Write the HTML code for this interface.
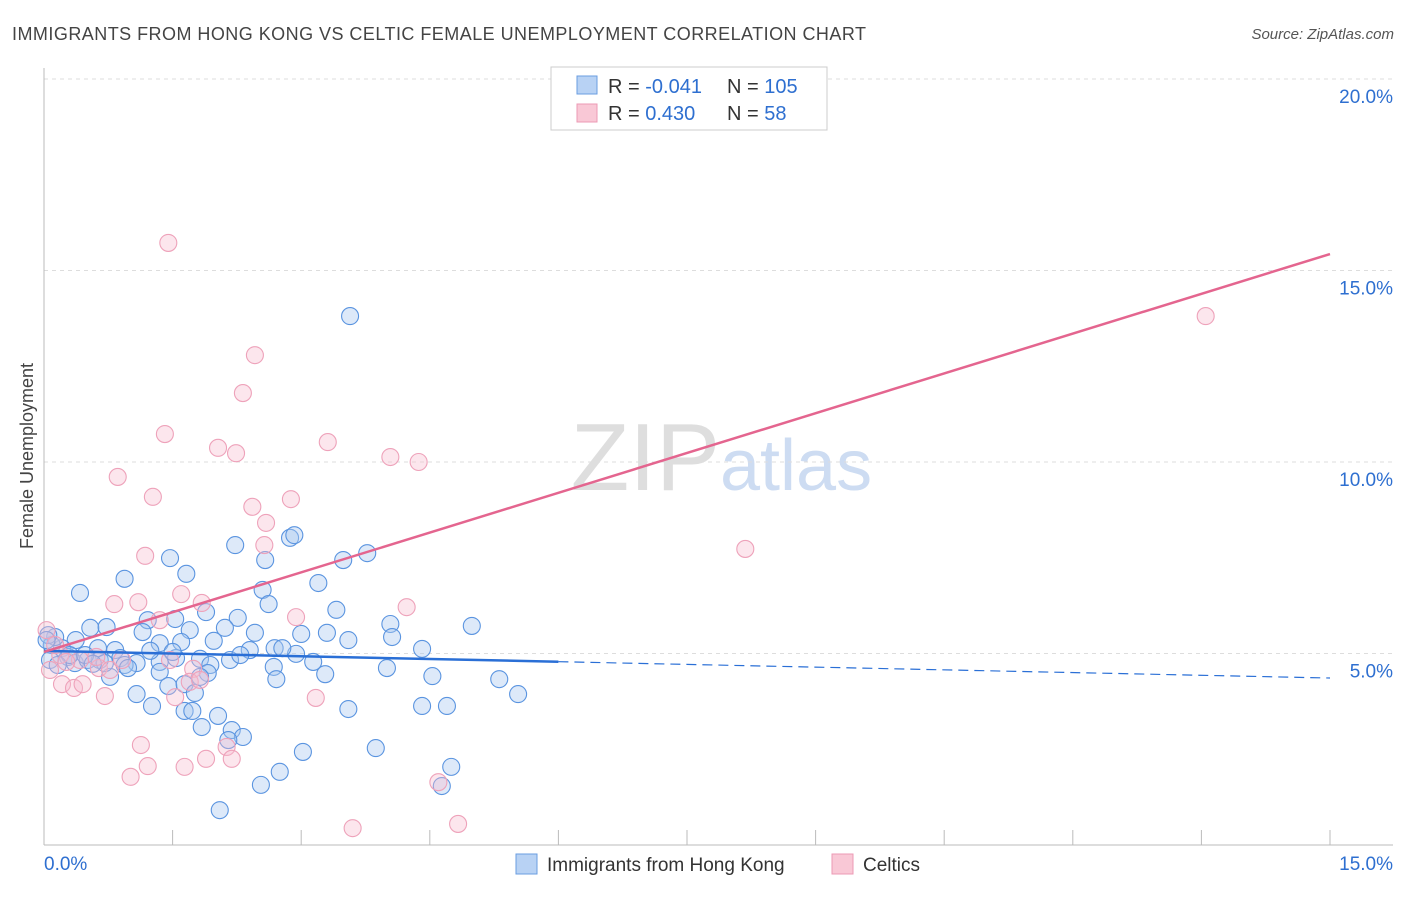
<!DOCTYPE html>
<html><head><meta charset="utf-8"><style>
body{margin:0;background:#fff;font-family:"Liberation Sans",sans-serif}
svg text{font-family:"Liberation Sans",sans-serif}
</style></head><body>
<svg id="chart" width="1406" height="892">
<text x="12" y="40" font-size="18" fill="#444" textLength="854" lengthAdjust="spacing">IMMIGRANTS FROM HONG KONG VS CELTIC FEMALE UNEMPLOYMENT CORRELATION CHART</text>
<text x="1394" y="39" font-size="15" fill="#555" text-anchor="end" font-style="italic">Source: ZipAtlas.com</text>
<text x="720" y="490" font-size="96" fill="#dedede" text-anchor="end" font-family="Liberation Serif">ZIP</text>
<text x="720" y="490" font-size="72" fill="#cddcf2">atlas</text>
<g id="grid"></g>
<g id="axes"></g>
<g id="pts"></g>
<g id="lines"></g>
<text transform="translate(33,456) rotate(-90)" font-size="18" fill="#444" text-anchor="middle">Female Unemployment</text>
<g>
<rect x="551" y="67" width="276" height="63" fill="#fff" stroke="#ccc"/>
<rect x="577" y="76" width="20" height="18" fill="#b8d2f4" stroke="#6a9de0"/>
<rect x="577" y="104" width="20" height="18" fill="#f9c8d6" stroke="#ec9ab4"/>
<text x="608" y="93" font-size="20" fill="#333">R = <tspan fill="#2e6fd0">-0.041</tspan></text>
<text x="727" y="93" font-size="20" fill="#333">N = <tspan fill="#2e6fd0">105</tspan></text>
<text x="608" y="120" font-size="20" fill="#333">R =  <tspan fill="#2e6fd0">0.430</tspan></text>
<text x="727" y="120" font-size="20" fill="#333">N =   <tspan fill="#2e6fd0">58</tspan></text>
</g>
<g>
<rect x="516" y="854" width="21" height="20" fill="#b8d2f4" stroke="#6a9de0"/>
<text x="547" y="871" font-size="19" fill="#333">Immigrants from Hong Kong</text>
<rect x="832" y="854" width="21" height="20" fill="#f9c8d6" stroke="#ec9ab4"/>
<text x="863" y="871" font-size="19" fill="#333">Celtics</text>
</g>
</svg>
<script>
const xTicks=[0,1.5,3,4.5,6,7.5,9,10.5,12,13.5,15];
const yTicks=[5,10,15,20];
const yTickLabels=["5.0%","10.0%","15.0%","20.0%"];
const xEndLabels=["0.0%","15.0%"];
const blueX=[.42,.94,1.47,1.66,2.23,2.58,2.55,2.87,2.92,3.57,3.49,3.77,3.20,3.41,2.62,2.26,1.89,1.53,1.21,.54,.73,1.15,1.70,1.98,2.11,2.46,3.00,3.30,3.55,4.04,4.06,4.99,4.41,1.60,1.35,.83,.63,.37,.21,.09,.07,.28,.36,.51,.65,.89,1.08,1.35,1.54,1.82,1.94,2.17,2.40,2.69,2.94,2.78,3.14,3.28,4.00,4.53,5.31,5.53,2.68,2.71,1.91,1.35,.94,.77,1.82,1.45,1.64,1.76,1.08,1.26,1.64,1.73,2.03,1.84,2.19,2.32,2.15,3.55,4.41,4.70,3.87,3.02,2.75,2.53,4.75,4.64,2.05,.13,.05,.30,.98,1.24,.71,2.29,1.50,.16,.48,.57,.03];
const blueY=[6.58,6.95,7.49,7.08,7.83,7.44,6.66,8.02,8.09,13.81,7.44,7.62,6.84,6.14,6.29,5.93,6.08,5.90,5.87,5.67,5.69,5.56,5.61,5.33,5.67,5.54,5.51,5.54,5.35,5.77,5.43,5.72,5.12,5.30,5.27,5.09,5.14,5.35,5.14,5.22,4.83,4.91,4.75,4.83,4.83,4.88,4.75,4.78,4.88,4.86,4.70,4.83,5.09,5.14,4.99,5.14,4.78,4.46,4.62,4.41,4.33,3.94,4.65,4.33,4.49,4.52,4.70,4.39,4.39,4.15,4.20,3.97,3.94,3.63,3.50,3.50,3.37,3.08,3.00,2.82,2.74,3.55,3.63,3.63,2.53,2.43,1.91,1.57,2.04,1.54,0.91,5.43,5.48,4.96,4.62,5.07,4.75,4.96,5.04,4.70,4.96,4.73,5.35];
const pinkX=[1.45,2.46,2.32,1.41,2.03,2.24,3.31,4.04,4.37,.86,1.27,2.43,2.88,2.59,2.57,1.18,1.60,.82,1.10,1.84,2.94,1.35,4.23,8.18,13.55,8.13,1.74,1.47,.64,.77,.19,.07,.21,.35,.45,.71,1.53,3.17,1.13,1.21,1.01,1.64,1.89,2.13,2.19,4.60,3.60,4.83,.61,.91,.03,.13,.42,1.70,1.82,.26];
const pinkY=[15.72,12.79,11.80,10.73,10.37,10.23,10.52,10.13,10.00,9.61,9.09,8.83,9.03,8.41,7.83,7.55,6.55,6.29,6.34,6.32,5.95,5.87,6.21,7.73,13.81,19.45,4.60,4.83,4.62,4.57,4.96,4.57,4.20,4.10,4.20,3.89,3.86,3.84,2.61,2.06,1.78,2.04,2.25,2.56,2.25,1.64,0.44,0.55,4.91,4.83,5.61,5.22,4.83,4.26,4.31,4.78];
const blueTrend=[5.07,4.36];
const pinkTrend=[5.04,15.43];
const NS='http://www.w3.org/2000/svg';
const X=v=>44+v*(1330-44)/15;
const Y=v=>845-v*38.3;
function mk(tag,attrs,parent){const e=document.createElementNS(NS,tag);for(const k in attrs)e.setAttribute(k,attrs[k]);document.getElementById(parent).appendChild(e);return e;}
yTicks.forEach((t,i)=>{
 const g=mk('line',{x1:44,x2:1393,y1:Y(t),y2:Y(t),stroke:'#ddd','stroke-dasharray':'4,4'},'grid');
 
 
 const l=mk('text',{x:1393,y:Y(t)+24,'font-size':19,fill:'#2e6fd0','text-anchor':'end'},'grid');
 l.textContent=yTickLabels[i];
 
 
});
const ya=mk('line',{x1:44,x2:44,y1:68,y2:845,stroke:'#bbb'},'axes');


const xa=mk('line',{x1:44,x2:1393,y1:845,y2:845,stroke:'#bbb'},'axes');


xTicks.forEach(t=>{
 const k=mk('line',{x1:X(t),x2:X(t),y1:830,y2:845,stroke:'#bbb'},'axes');
 
 
});
const xl0=mk('text',{x:44,y:870,'font-size':19,fill:'#2e6fd0'},'axes');
xl0.textContent=xEndLabels[0];


const xl1=mk('text',{x:1393,y:870,'font-size':19,fill:'#2e6fd0','text-anchor':'end'},'axes');
xl1.textContent=xEndLabels[1];


blueX.forEach((v,i)=>{
 const c=mk('circle',{cx:X(v),cy:Y(blueY[i]),r:8.5,fill:'rgba(170,200,240,0.4)',stroke:'#5a94e0','stroke-width':1.1},'pts');
 
 
});
pinkX.forEach((v,i)=>{
 const c=mk('circle',{cx:X(v),cy:Y(pinkY[i]),r:8.5,fill:'rgba(248,190,208,0.38)',stroke:'#eea2ba','stroke-width':1.1},'pts');
 
 
});
const bm=blueTrend[0]+(blueTrend[1]-blueTrend[0])*6/15;
const b1=mk('line',{x1:X(0),y1:Y(blueTrend[0]),x2:X(6),y2:Y(bm),stroke:'#2a6fd6','stroke-width':2.5},'lines');


const b2=mk('line',{x1:X(6),y1:Y(bm),x2:X(15),y2:Y(blueTrend[1]),stroke:'#2a6fd6','stroke-width':1.2,'stroke-dasharray':'10,6'},'lines');


const p1=mk('line',{x1:X(0),y1:Y(pinkTrend[0]),x2:X(15),y2:Y(pinkTrend[1]),stroke:'#e4658f','stroke-width':2.5},'lines');


</script>
</body></html>
